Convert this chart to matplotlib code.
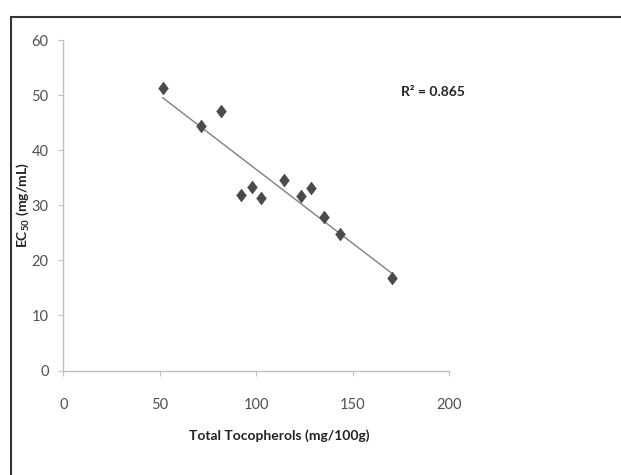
import numpy as np
import matplotlib.pyplot as plt
from matplotlib.patches import Rectangle
from matplotlib.path import Path

# data
tocopherols = [51.6, 71.4, 81.7, 92.1, 98.1, 102.6, 114.7, 123.4, 128.2, 135.2, 143.3, 170.6]
ec50 = [51.2, 44.4, 47.1, 31.9, 33.3, 31.3, 34.6, 31.7, 33.1, 27.8, 24.7, 16.8]
r2_label = "R² = 0.865"
x_title = "Total Tocopherols (mg/100g)"
y_title = "EC$_{50}$ (mg/mL)"

plt.rcParams['font.family'] = ['Lato', 'DejaVu Sans']
plt.rcParams['mathtext.fontset'] = 'custom'
plt.rcParams['mathtext.rm'] = 'Lato:bold'
plt.rcParams['mathtext.it'] = 'Lato:bold:italic'
plt.rcParams['mathtext.bf'] = 'Lato:bold'

W, H = 621, 475
fig = plt.figure(figsize=(W / 100, H / 100), dpi=100)
ax = fig.add_axes([63.3 / W, 1 - 370.5 / H, (449 - 63.3) / W, (370.5 - 40) / H])

# outer frame, only top and left edges visible in the crop
fig.add_artist(Rectangle((10.5 / W, -0.2), 1.5, 1.2 - 17 / H,
                         transform=fig.transFigure, fill=False,
                         edgecolor='#333333', linewidth=1.5))

# Excel-like diamond, a bit taller than wide
diamond = Path([(0, 1.3), (1, 0), (0, -1.3), (-1, 0), (0, 1.3)],
               [Path.MOVETO, Path.LINETO, Path.LINETO, Path.LINETO, Path.CLOSEPOLY])

x = np.array(tocopherols)
y = np.array(ec50)
ax.plot(x, y, linestyle='none', marker=diamond, markersize=9, color='#4a4a4a',
        markeredgecolor='#4a4a4a', markeredgewidth=0.5, zorder=3)

# linear trend line
k, b = np.polyfit(x, y, 1)
xl = np.array([x.min(), x.max()])
ax.plot(xl, k * xl + b, color='#808080', linewidth=1.0, zorder=2)

fig.text(401 / W, 1 - 92 / H, r2_label, fontsize=10, fontweight='bold',
         color='#222222', ha='left', va='center')

ax.set_xlim(0, 200)
ax.set_ylim(0, 60)
ax.set_xticks([0, 50, 100, 150, 200])
ax.set_yticks([0, 10, 20, 30, 40, 50, 60])

for s in ['top', 'right']:
    ax.spines[s].set_visible(False)
for s in ['left', 'bottom']:
    ax.spines[s].set_color('#c0c0c0')
    ax.spines[s].set_linewidth(1.0)

ax.tick_params(axis='both', direction='out', length=3.5, color='#c0c0c0',
               labelsize=10.5, labelcolor='#505050')
ax.tick_params(axis='x', pad=16)
ax.tick_params(axis='y', pad=7)

fig.text(279 / W, 1 - 436 / H, x_title, fontsize=10, fontweight='bold',
         color='#222222', ha='center', va='center')
fig.text(23 / W, 1 - 205 / H, y_title, fontsize=10, fontweight='bold',
         color='#222222', ha='center', va='center', rotation=90)

fig.savefig('out.png', dpi=100)
